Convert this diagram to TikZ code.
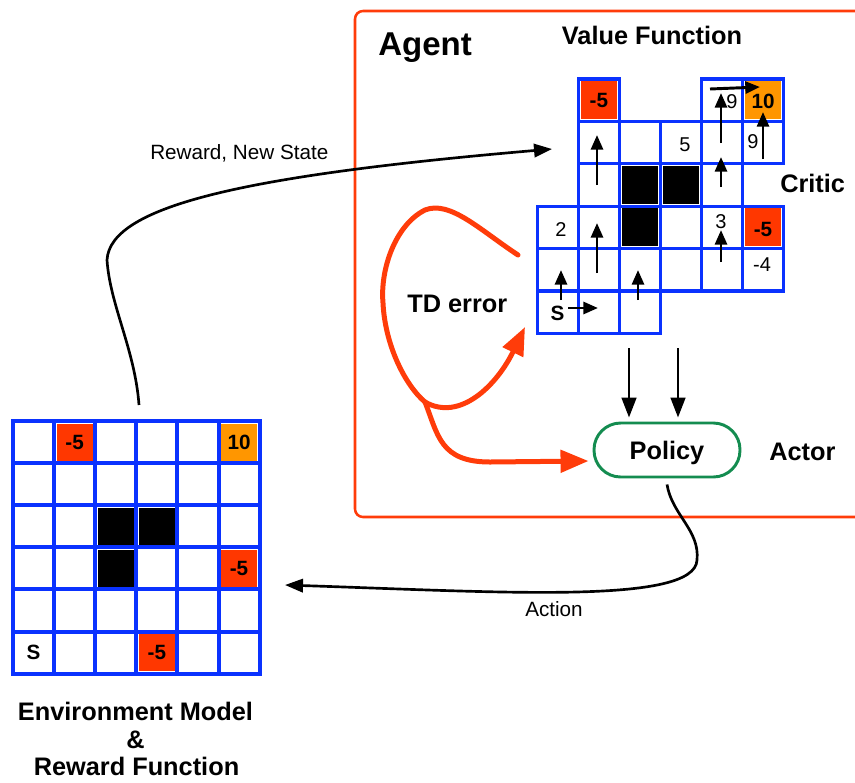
\documentclass[tikz,border=0pt]{standalone}
\usepackage{fontspec}
\setmainfont{Liberation Sans}
\usetikzlibrary{arrows.meta}
\definecolor{gridblue}{RGB}{10,50,255}
\definecolor{cellred}{RGB}{255,55,0}
\definecolor{cellorange}{RGB}{255,150,0}
\definecolor{agentred}{RGB}{255,60,10}
\definecolor{policygreen}{RGB}{20,140,80}

% environment grid: origin and cell size
\newcommand{\envX}[1]{13+41.1*(#1)}
\newcommand{\envY}[1]{421+42.1*(#1)}
\newcommand{\envfill}[3]{\fill[#3] ({\envX{#1}+2.6},{\envY{#2}+2.6}) rectangle ({\envX{#1+1}-2.6},{\envY{#2+1}-2.6});}
\newcommand{\envtext}[4]{\node[#4] at ({\envX{#1+0.5}},{\envY{#2+0.5}}) {#3};}
% critic grid: origin and cell size
\newcommand{\crX}[1]{537.3+41*(#1)}
\newcommand{\crY}[1]{79+42.4*(#1)}
\newcommand{\crcell}[2]{\draw[critic line] ({\crX{#1}},{\crY{#2}}) rectangle ({\crX{#1+1}},{\crY{#2+1}});}
\newcommand{\crfill}[3]{\fill[#3] ({\crX{#1}+2.2},{\crY{#2}+2.2}) rectangle ({\crX{#1+1}-2.2},{\crY{#2+1}-2.2});}

\begin{document}
\begin{tikzpicture}[x=0.75pt,y=-0.75pt,
  bold label/.style={font=\fontsize{19}{22}\selectfont\bfseries, inner sep=0pt},
  plain label/.style={font=\fontsize{15.5}{18}\selectfont, inner sep=0pt},
  cell text/.style={font=\fontsize{15}{18}\selectfont, inner sep=0pt},
  cell bold/.style={font=\fontsize{15.5}{18}\selectfont\bfseries, inner sep=0pt},
  env line/.style={gridblue, line width=3pt, line cap=rect},
  critic line/.style={gridblue, line width=2.4pt},
  movearrow/.style={line width=2.2pt, -{Triangle[length=11pt,width=9pt]}},
  flowarrow/.style={line width=2pt, -{Triangle[length=13.5pt,width=10pt]}},
  feedarrow/.style={line width=2pt, -{Triangle[length=15pt,width=11pt]}},
  tdline/.style={agentred, line width=3.75pt, line cap=round},
  tdarrow/.style={tdline, -{Triangle[length=21pt,width=16.5pt]}}
]
\clip (0,0) rectangle (855,782);

% agent frame (open to the right)
\draw[agentred, line width=1.9pt, rounded corners=6pt] (355,11) rectangle (890,517);
\node[font=\fontsize{24.75}{28}\selectfont\bfseries, inner sep=0pt, anchor=base west] (agentlabel) at (378,55) {Agent};
\node[bold label, anchor=base] (vflabel) at (652,44) {Value Function};
\node[bold label, anchor=base west] (criticlabel) at (780,192) {Critic};
\node[bold label, anchor=base west] (actorlabel) at (769,460) {Actor};

% ---------- environment grid ----------
\envfill{1}{0}{cellred}
\envfill{5}{0}{cellorange}
\envfill{5}{3}{cellred}
\envfill{3}{5}{cellred}
\envfill{2}{2}{black}
\envfill{3}{2}{black}
\envfill{2}{3}{black}
\foreach \i in {0,...,6} {
  \draw[env line] ({\envX{\i}},{\envY{0}}) -- ({\envX{\i}},{\envY{6}});
  \draw[env line] ({\envX{0}},{\envY{\i}}) -- ({\envX{6}},{\envY{\i}});
}
\envtext{1}{0}{-5}{cell bold}
\envtext{5}{0}{10}{cell bold}
\envtext{5}{3}{-5}{cell bold}
\envtext{3}{5}{-5}{cell bold}
\envtext{0}{5}{S}{cell bold}

\node[bold label, anchor=base] (envlabel1) at (135.5,720) {Environment Model};
\node[bold label, anchor=base] (envlabel2) at (135.5,748) {\&};
\node[bold label, anchor=base] (envlabel3) at (136.5,775) {Reward Function};

% ---------- critic grid (value function) ----------
\crfill{1}{0}{cellred}
\crfill{5}{0}{cellorange}
\crfill{5}{3}{cellred}
\crfill{2}{2}{black}
\crfill{3}{2}{black}
\crfill{2}{3}{black}
\foreach \c/\r in {1/0,4/0,5/0,
                   1/1,2/1,3/1,4/1,5/1,
                   1/2,2/2,3/2,4/2,
                   0/3,1/3,2/3,3/3,4/3,5/3,
                   0/4,1/4,2/4,3/4,4/4,5/4,
                   0/5,1/5,2/5} {\crcell{\c}{\r}}

\node[cell bold] at (598.8,100) {-5};
\node[cell bold] at (763,101) {10};
\node[cell bold] at (763,229) {-5};
\node[cell bold] at (557.5,313) {S};
\node[cell text] at (732,102) {9};
\node[cell text] at (753,142) {9};
\node[cell text] at (685,145) {5};
\node[cell text] at (561,230) {2};
\node[cell text] at (721,222) {3};
\node[cell text] at (762,265) {-4};

% greedy moves
\draw[movearrow] (721,143) -- (721,93);
\draw[movearrow] (710,89) -- (760,87);
\draw[movearrow] (763,159) -- (763,112);
\draw[movearrow] (597,185) -- (597,135);
\draw[movearrow] (721,187) -- (721,157);
\draw[movearrow] (597,273) -- (597,223);
\draw[movearrow] (721,262) -- (721,230);
\draw[movearrow] (561,300) -- (561,270);
\draw[movearrow] (638,300) -- (638,270);
\draw[movearrow] (568,308) -- (598,308);

% ---------- actor ----------
\node[draw=policygreen, line width=2.2pt, rounded corners=20pt,
      minimum width=109.5pt, minimum height=40.5pt, inner sep=0pt,
      bold label, text depth=0pt] (policy) at (667,450) {Policy};

\coordinate (vfout1) at (629,348);
\coordinate (vfout2) at (678,348);
\draw[feedarrow] (vfout1) -- ([shift={(-38,-4)}]policy.north);
\draw[feedarrow] (vfout2) -- ([shift={(11,-4)}]policy.north);

% ---------- TD error ----------
\node[bold label, anchor=base west] (tdlabel) at (407,312) {TD error};
\coordinate (tdstart) at (518,255);
\coordinate (tdin) at (525,327);
\draw[tdline] (tdstart) .. controls (480,230) and (450,200) .. (425,210)
  .. controls (395,225) and (380,270) .. (383,303)
  .. controls (385,345) and (405,385) .. (425,402) coordinate (tdsplit);
\draw[tdarrow] (tdsplit) .. controls (460,422) and (497,385) .. (tdin);
\draw[tdarrow] (tdsplit) .. controls (438,435) and (440,462) .. (490,462)
  -- ([shift={(-4,11)}]policy.west);

% ---------- interaction loop ----------
\coordinate (envtop) at (139,405);
\coordinate (criticin) at (552,149);
\coordinate (envright) at (285,585);
\draw[flowarrow] (envtop) .. controls (135,350) and (110,305) .. (107,260)
  .. controls (110,205) and (250,175) .. (criticin);
\node[plain label, anchor=base west] (rewardlabel) at (150,159) {Reward, New State};

\draw[flowarrow] ([yshift=-4.5pt]policy.south) .. controls (672,515) and (700,530) .. (697,560)
  .. controls (695,605) and (500,592) .. (envright);
\node[plain label, anchor=base west] (actionlabel) at (525,616) {Action};
\end{tikzpicture}
\end{document}
